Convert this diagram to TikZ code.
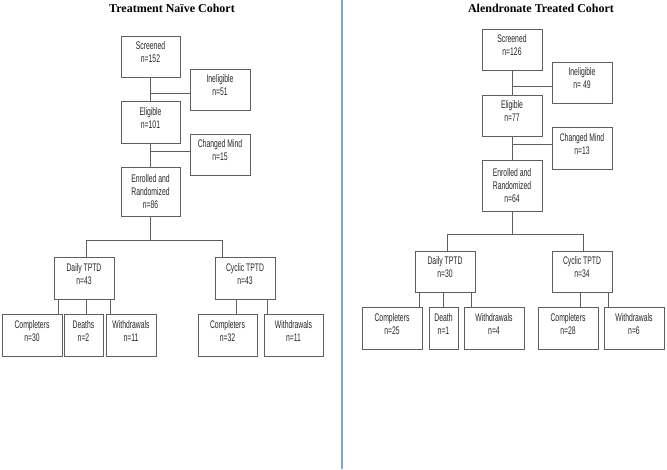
\documentclass[tikz,border=0pt]{standalone}
\usepackage{fontspec}
\setmainfont{Liberation Sans}
\newfontfamily\boxfont{Liberation Sans}[FakeStretch=0.62]
\newfontfamily\titlefont{Liberation Serif}
\definecolor{boxline}{RGB}{95,95,95}
\definecolor{divblue}{RGB}{120,170,215}
\begin{document}
\begin{tikzpicture}[x=1pt,y=-1pt,
  bx/.style={draw=boxline,line width=0.9pt,rectangle,inner sep=0pt,align=center,
    font=\boxfont\fontsize{11}{13}\selectfont,text=black!85},
  two/.style={text depth=8pt},
  ln/.style={draw=boxline,line width=0.9pt},
  ttl/.style={font=\titlefont\bfseries\fontsize{12}{14}\selectfont,inner sep=0pt}]
\useasboundingbox (0,0) rectangle (667,469);
% divider
\coordinate (dtop) at (342,0);
\coordinate (dbot) at (342,469);
\draw[divblue,line width=1.4pt] (dtop) -- (dbot);
% titles
\node[ttl] (t1) at (172,8.5) {Treatment Naïve Cohort};
\node[ttl] (t2) at (541,8.5) {Alendronate Treated Cohort};
% ---------- left cohort ----------
\node[bx,two,minimum width=59pt,minimum height=41pt] (scr1) at (150.5,56.5) {Screened\\n=152};
\node[bx,two,minimum width=60pt,minimum height=41pt] (inel1) at (220,89.5) {Ineligible\\n=51};
\node[bx,two,minimum width=59pt,minimum height=42pt] (elig1) at (150.5,122) {Eligible\\n=101};
\node[bx,two,minimum width=60pt,minimum height=41pt] (chg1) at (220,154.5) {Changed Mind\\n=15};
\node[bx,minimum width=59pt,minimum height=49pt] (enr1) at (150.5,191.5) {Enrolled and\\Randomized\\n=86};
\node[bx,two,minimum width=60pt,minimum height=42pt] (daily1) at (84,278) {Daily TPTD\\n=43};
\node[bx,two,minimum width=60pt,minimum height=42pt] (cyc1) at (245,278) {Cyclic TPTD\\n=43};
\node[bx,two,minimum width=60pt,minimum height=42pt] (comp1) at (32,335) {Completers\\n=30};
\node[bx,two,minimum width=39pt,minimum height=42pt] (death1) at (83.5,335) {Deaths\\n=2};
\node[bx,two,minimum width=50pt,minimum height=42pt] (wd1) at (131,335) {Withdrawals\\n=11};
\node[bx,two,minimum width=59pt,minimum height=42pt] (comp1b) at (227.5,335) {Completers\\n=32};
\node[bx,two,minimum width=59pt,minimum height=42pt] (wd1b) at (293.5,335) {Withdrawals\\n=11};
\draw[ln] (scr1) -- (elig1);
\draw[ln] (elig1) -- (enr1);
\coordinate (b1) at (150.5,93);
\coordinate (b2) at (150.5,151);
\draw[ln] (b1) -- (b1 -| inel1.west);
\draw[ln] (b2) -- (b2 -| chg1.west);
\coordinate (j1) at (150.5,240);
\coordinate (jl1) at (86,240);
\coordinate (jr1) at (222,240);
\draw[ln] (enr1.south) -- (j1);
\draw[ln] (jl1 |- daily1.north) -- (jl1) -- (jr1) -- (jr1 |- cyc1.north);
\coordinate (d1a) at (58,314);
\coordinate (d1b) at (86,314);
\coordinate (d1c) at (110,314);
\coordinate (c1a) at (236,314);
\coordinate (c1b) at (267,314);
\foreach \p in {d1a,d1b,d1c} \draw[ln] (\p) -- (\p |- daily1.south);
\foreach \p in {c1a,c1b} \draw[ln] (\p) -- (\p |- cyc1.south);
% ---------- right cohort ----------
\node[bx,two,minimum width=60pt,minimum height=41pt] (scr2) at (512,49.5) {Screened\\n=126};
\node[bx,two,minimum width=60pt,minimum height=41pt] (inel2) at (582,82.5) {Ineligible\\n= 49};
\node[bx,two,minimum width=60pt,minimum height=41pt] (elig2) at (512,115.5) {Eligible\\n=77};
\node[bx,two,minimum width=60pt,minimum height=42pt] (chg2) at (582,148) {Changed Mind\\n=13};
\node[bx,minimum width=60pt,minimum height=51pt] (enr2) at (512,185.5) {Enrolled and\\Randomized\\n=64};
\node[bx,two,minimum width=60pt,minimum height=41pt] (daily2) at (445,271.5) {Daily TPTD\\n=30};
\node[bx,two,minimum width=60pt,minimum height=41pt] (cyc2) at (582,271.5) {Cyclic TPTD\\n=34};
\node[bx,two,minimum width=60pt,minimum height=42pt] (comp2) at (392,328) {Completers\\n=25};
\node[bx,two,minimum width=29pt,minimum height=42pt] (death2) at (443.5,328) {Death\\n=1};
\node[bx,two,minimum width=60pt,minimum height=42pt] (wd2) at (494,328) {Withdrawals\\n=4};
\node[bx,two,minimum width=60pt,minimum height=42pt] (comp2b) at (568,328) {Completers\\n=28};
\node[bx,two,minimum width=60pt,minimum height=42pt] (wd2b) at (634,328) {Withdrawals\\n=6};
\draw[ln] (scr2) -- (elig2);
\draw[ln] (elig2) -- (enr2);
\coordinate (b3) at (512,86);
\coordinate (b4) at (512,144);
\draw[ln] (b3) -- (b3 -| inel2.west);
\draw[ln] (b4) -- (b4 -| chg2.west);
\coordinate (j2) at (512,234);
\coordinate (jl2) at (447,234);
\coordinate (jr2) at (583,234);
\draw[ln] (enr2.south) -- (j2);
\draw[ln] (jl2 |- daily2.north) -- (jl2) -- (jr2) -- (jr2 |- cyc2.north);
\coordinate (d2a) at (419,307);
\coordinate (d2b) at (443,307);
\coordinate (d2c) at (471,307);
\coordinate (c2a) at (580,307);
\coordinate (c2b) at (608,307);
\foreach \p in {d2a,d2b,d2c} \draw[ln] (\p) -- (\p |- daily2.south);
\foreach \p in {c2a,c2b} \draw[ln] (\p) -- (\p |- cyc2.south);
\end{tikzpicture}
\end{document}
